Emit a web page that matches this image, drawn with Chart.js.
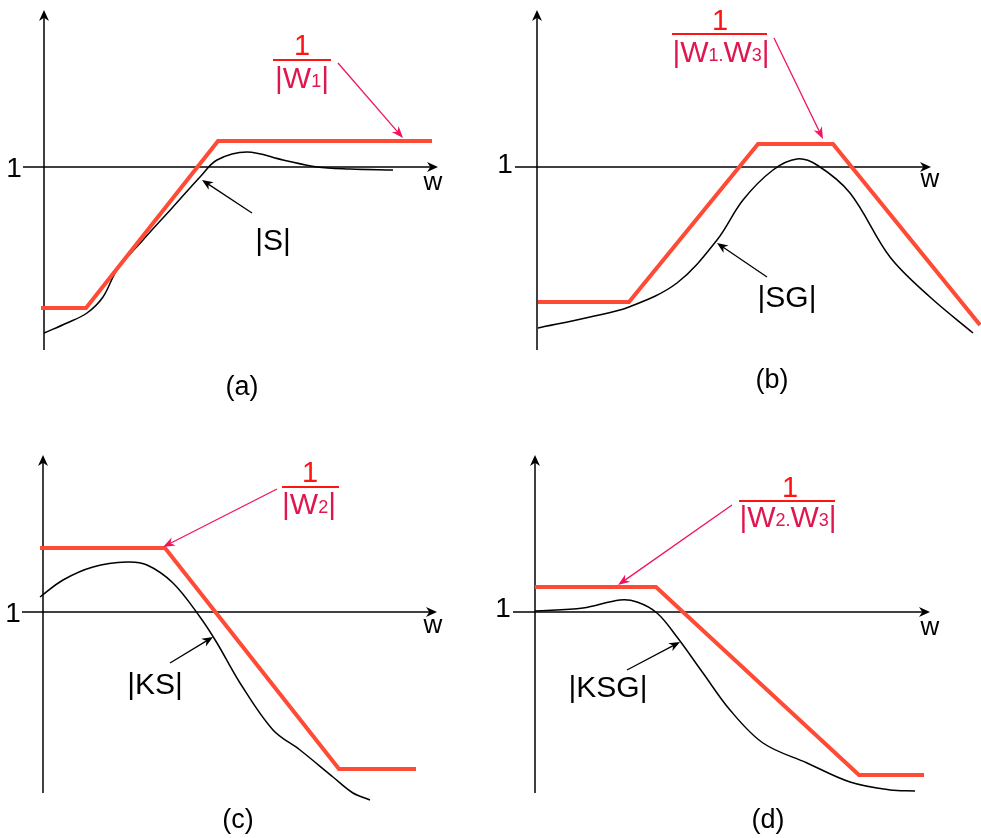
<!DOCTYPE html>
<html><head><meta charset="utf-8">
<script src="https://cdn.jsdelivr.net/npm/chart.js@4/dist/chart.umd.min.js"></script>
<style>
html,body{margin:0;padding:0;background:#fff;}
#wrap{position:relative;width:981px;height:838px;overflow:hidden;}
.pane{position:absolute;}
</style></head><body>
<div id="wrap">
<div class="pane" style="left:0;top:0;width:490px;height:420px"><canvas id="ca"></canvas></div>
<div class="pane" style="left:490px;top:0;width:491px;height:420px"><canvas id="cb"></canvas></div>
<div class="pane" style="left:0;top:420px;width:490px;height:418px"><canvas id="cc"></canvas></div>
<div class="pane" style="left:490px;top:420px;width:491px;height:418px"><canvas id="cd"></canvas></div>
</div>
<script>
// ---- data (x = frequency w, y = log-magnitude, 0 = magnitude 1) ----
const aRedX = [-0.3, 4.2, 17.4, 38.8];
const aRedY = [-14.1, -14.1, 2.6, 2.6];
const aBlkX = [0, 2.3, 4.3, 5.9, 7.3, 9.9, 12.9, 15.6, 17.3, 20.3, 23.9, 27.3, 30.6, 34.9];
const aBlkY = [-16.6, -15.6, -14.6, -13.0, -10.3, -7.3, -4.0, -1.0, 0.7, 1.5, 0.7, 0, -0.2, -0.3];

const bRedX = [0.1, 9.2, 22.1, 29.6, 44.3];
const bRedY = [-13.5, -13.5, 2.3, 2.3, -15.8];
const bBlkX = [0.1, 5.3, 9.2, 14.0, 18.0, 20.6, 23.6, 26.0, 28.0, 31.3, 35.3, 39.3, 43.6];
const bBlkY = [-16.1, -15.0, -14.0, -11.6, -7.3, -3.3, -0.3, 0.8, 0.2, -2.6, -9.0, -13.0, -16.6];

const cRedX = [-0.3, 12.2, 29.6, 37.3];
const cRedY = [6.4, 6.4, -15.7, -15.7];
const cBlkX = [-0.3, 2.0, 5.0, 8.4, 10.4, 13.0, 15.7, 17.4, 19.7, 23.0, 25.7, 29.0, 31.0, 32.7];
const cBlkY = [1.5, 3.2, 4.5, 5.0, 4.7, 2.9, -0.5, -3.1, -7.1, -11.8, -13.8, -16.5, -18.1, -18.8];

const dRedX = [0, 12.1, 32.4, 38.9];
const dRedY = [2.5, 2.5, -16.3, -16.3];
const dBlkX = [0, 4.8, 8.5, 10.2, 12.2, 14.2, 16.8, 19.5, 22.8, 27.2, 31.5, 35.5, 38.0];
const dBlkY = [0.1, 0.4, 1.2, 1.0, -0.1, -2.5, -6.1, -9.8, -13.1, -15.1, -17.0, -17.8, -17.9];

// ---- text ----
const yTickLabel = "1";
const xAxisLabel = "w";
const captions = ["(a)", "(b)", "(c)", "(d)"];
const curveLabels = ["|S|", "|SG|", "|KS|", "|KSG|"];
const boundNumerator = "1";
const boundDenominators = [
  [["|W", 0], ["1", 1], ["|", 0]],
  [["|W", 0], ["1.", 1], ["W", 0], ["3", 1], ["|", 0]],
  [["|W", 0], ["2", 1], ["|", 0]],
  [["|W", 0], ["2.", 1], ["W", 0], ["3", 1], ["|", 0]]
];

const FONT = '"Liberation Sans", Arial, Helvetica, sans-serif';
const RED = '#ff4a36';
const PINK = '#f0145a';
const NUMC = '#ff1414';
const DENC = '#e0174e';

function arrowHead(ctx, x1, y1, x2, y2, len, hw) {
  const a = Math.atan2(y2 - y1, x2 - x1);
  const c = Math.cos(a), s = Math.sin(a);
  ctx.beginPath();
  ctx.moveTo(x2, y2);
  ctx.lineTo(x2 - len * c - hw * s, y2 - len * s + hw * c);
  ctx.lineTo(x2 - len * 0.7 * c, y2 - len * 0.7 * s);
  ctx.lineTo(x2 - len * c + hw * s, y2 - len * s - hw * c);
  ctx.closePath();
  ctx.fill();
}
function arrow(ctx, x1, y1, x2, y2, color, lw, len, hw) {
  ctx.strokeStyle = color; ctx.fillStyle = color; ctx.lineWidth = lw;
  const a = Math.atan2(y2 - y1, x2 - x1);
  ctx.beginPath(); ctx.moveTo(x1, y1);
  ctx.lineTo(x2 - Math.cos(a) * len * 0.6, y2 - Math.sin(a) * len * 0.6); ctx.stroke();
  arrowHead(ctx, x1, y1, x2, y2, len, hw);
}

const sketch = {
  id: 'sketch',
  beforeDatasetsDraw(chart, args, o) {
    const ctx = chart.ctx, X = chart.scales.x, Y = chart.scales.y;
    const px = v => X.getPixelForValue(v), py = v => Y.getPixelForValue(v);
    ctx.save();
    ctx.fillStyle = '#000'; ctx.strokeStyle = '#000'; ctx.lineWidth = 1.5;
    ctx.beginPath(); ctx.moveTo(px(0), py(o.yAxis[0])); ctx.lineTo(px(0), py(o.yAxis[1]) + 6); ctx.stroke();
    arrowHead(ctx, px(0), py(0), px(0), py(o.yAxis[1]), 11, 5);
    ctx.beginPath(); ctx.moveTo(px(o.xAxis[0]), py(0)); ctx.lineTo(px(o.xAxis[1]) - 6, py(0)); ctx.stroke();
    arrowHead(ctx, px(0), py(0), px(o.xAxis[1]), py(0), 11, 5);
    ctx.restore();
  },
  afterDatasetsDraw(chart, args, o) {
    const ctx = chart.ctx, X = chart.scales.x, Y = chart.scales.y;
    const px = v => X.getPixelForValue(v), py = v => Y.getPixelForValue(v);
    ctx.save();
    ctx.textAlign = 'center'; ctx.textBaseline = 'alphabetic';
    ctx.fillStyle = '#000';
    ctx.font = '28px ' + FONT;
    ctx.fillText(yTickLabel, px(o.tick[0]), py(o.tick[1]));
    ctx.font = '26px ' + FONT;
    ctx.fillText(xAxisLabel, px(o.wlab[0]), py(o.wlab[1]));
    ctx.font = '27px ' + FONT;
    ctx.fillText(captions[o.idx], px(o.cap[0]), py(o.cap[1]));
    ctx.font = '30px ' + FONT;
    ctx.fillText(curveLabels[o.idx], px(o.lab[0]), py(o.lab[1]));
    arrow(ctx, px(o.larr[0]), py(o.larr[1]), px(o.larr[2]), py(o.larr[3]), '#000', 1.3, 11, 4.5);
    ctx.fillStyle = NUMC;
    ctx.font = '29px ' + FONT;
    ctx.fillText(boundNumerator, px(o.num[0]), py(o.num[1]));
    ctx.strokeStyle = NUMC; ctx.lineWidth = 2;
    ctx.beginPath(); ctx.moveTo(px(o.bar[0]), py(o.bar[2])); ctx.lineTo(px(o.bar[1]), py(o.bar[2])); ctx.stroke();
    const parts = boundDenominators[o.idx];
    const big = '30px ' + FONT, small = '18px ' + FONT;
    let w = 0;
    parts.forEach(p => { ctx.font = p[1] ? small : big; w += ctx.measureText(p[0]).width; });
    let cx = px(o.den[0]) - w / 2;
    const by = py(o.den[1]);
    ctx.textAlign = 'left'; ctx.fillStyle = DENC;
    parts.forEach(p => {
      ctx.font = p[1] ? small : big;
      ctx.fillText(p[0], cx, by - (p[1] ? 1 : 0));
      cx += ctx.measureText(p[0]).width;
    });
    arrow(ctx, px(o.rarr[0]), py(o.rarr[1]), px(o.rarr[2]), py(o.rarr[3]), PINK, 1.3, 12, 4.5);
    ctx.restore();
  }
};

function makeChart(id, redX, redY, blkX, blkY, xr, yr, ann) {
  new Chart(document.getElementById(id), {
    type: 'line',
    data: {
      datasets: [
        { data: redX.map((v, i) => ({ x: v, y: redY[i] })), borderColor: RED, borderWidth: 4,
          pointRadius: 0, tension: 0, borderCapStyle: 'butt', borderJoinStyle: 'miter' },
        { data: blkX.map((v, i) => ({ x: v, y: blkY[i] })), borderColor: '#000', borderWidth: 1.5,
          pointRadius: 0, tension: 0.35 }
      ]
    },
    options: {
      responsive: true, maintainAspectRatio: false, animation: false,
      layout: { padding: 0 },
      events: [],
      plugins: { legend: { display: false }, tooltip: { enabled: false }, sketch: ann },
      scales: {
        x: { type: 'linear', display: false, min: xr[0], max: xr[1] },
        y: { type: 'linear', display: false, min: yr[0], max: yr[1] }
      }
    },
    plugins: [sketch]
  });
}

makeChart('ca', aRedX, aRedY, aBlkX, aBlkY, [-4.4, 44.6], [-25.3, 16.7], {
  idx: 0, yAxis: [-18.3, 15.7], xAxis: [-2.1, 39.4],
  tick: [-3.0, -1.0], wlab: [38.9, -2.3], cap: [19.8, -22.8],
  lab: [22.9, -8.3], larr: [20.8, -4.6, 15.8, -1.3],
  num: [25.8, 11.2], bar: [22.9, 28.7, 10.7], den: [25.8, 7.9], rarr: [29.4, 10.4, 35.9, 2.9]
});
makeChart('cb', bRedX, bRedY, bBlkX, bBlkY, [-4.7, 44.4], [-25.3, 16.7], {
  idx: 1, yAxis: [-18.3, 15.7], xAxis: [-2.2, 39.4],
  tick: [-3.2, -0.6], wlab: [39.3, -2.0], cap: [23.5, -22.1],
  lab: [25.0, -14.0], larr: [23.0, -11.0, 18.0, -7.6],
  num: [18.3, 13.7], bar: [13.5, 23.0, 13.3], den: [18.4, 10.5], rarr: [23.7, 12.9, 28.6, 2.8]
});
makeChart('cc', cRedX, cRedY, cBlkX, cBlkY, [-4.3, 44.7], [-22.6, 19.2], {
  idx: 2, yAxis: [-18.1, 15.7], xAxis: [-2.1, 39.4],
  tick: [-3.0, -1.0], wlab: [39.0, -2.1], cap: [19.5, -21.6],
  lab: [11.2, -8.2], larr: [12.7, -5.1, 17.0, -2.5],
  num: [26.7, 13.0], bar: [23.9, 29.6, 12.5], den: [26.6, 9.8], rarr: [23.4, 12.3, 12.0, 6.5]
});
makeChart('cd', dRedX, dRedY, dBlkX, dBlkY, [-4.5, 44.6], [-22.6, 19.2], {
  idx: 3, yAxis: [-18.1, 15.7], xAxis: [-2.2, 39.5],
  tick: [-3.2, -0.5], wlab: [39.5, -2.3], cap: [23.3, -21.6],
  lab: [7.3, -8.5], larr: [9.2, -5.8, 14.5, -3.0],
  num: [25.5, 11.5], bar: [20.4, 30.0, 11.1], den: [25.3, 8.5], rarr: [19.7, 10.7, 8.3, 2.7]
});
</script>
</body></html>
